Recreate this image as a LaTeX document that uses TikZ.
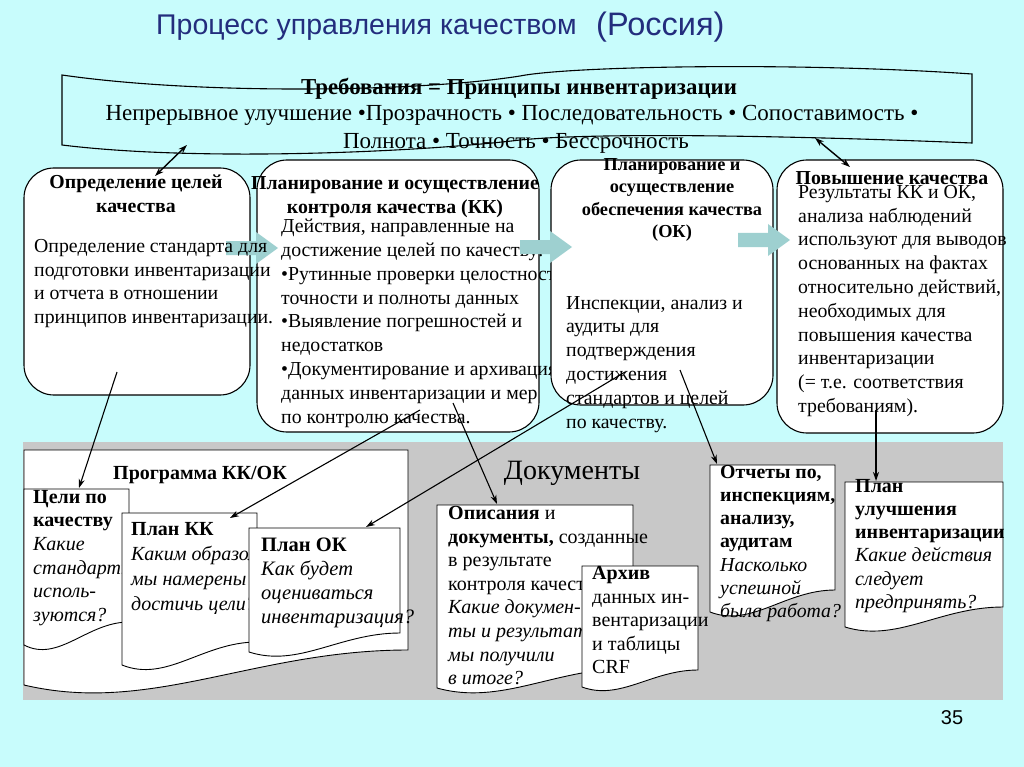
\documentclass[tikz,border=0pt]{standalone}
\usepackage{fontspec}
\setmainfont{Liberation Serif}
\newfontfamily\titlefont{Liberation Sans}
\usetikzlibrary{arrows.meta}

\definecolor{slidebg}{RGB}{200,252,252}
\definecolor{bandgray}{RGB}{200,200,200}
\definecolor{titleblue}{RGB}{35,45,125}
\definecolor{flowblue}{RGB}{158,208,208}

\tikzset{
  stagebox/.style={draw, line width=1.1pt, fill=white, rounded corners=30pt},
  headtext/.style={inner sep=0pt, align=center, font=\bfseries\fontsize{19.8}{23.5}\selectfont},
  bodytext/.style={anchor=north west, inner sep=0pt, align=left, font=\fontsize{19.8}{23.8}\selectfont},
  doctext/.style={anchor=north west, inner sep=0pt, align=left, font=\fontsize{20}{23.6}\selectfont},
  docline/.style={draw, line width=0.9pt, fill=white},
  link/.style={-{Stealth[length=9pt,width=6pt]}, line width=1.1pt},
  twolink/.style={{Stealth[length=9pt,width=6pt]}-{Stealth[length=9pt,width=6pt]}, line width=1.4pt},
  flowarrow/.style={fill=flowblue},
}

% document page with wavy bottom: x1, top, x2, left bottom, right bottom, dip
\newcommand{\docpage}[6]{%
  \pgfmathsetmacro{\dca}{#1+0.33*(#3-#1)}
  \pgfmathsetmacro{\dcb}{#1+0.6*(#3-#1)}
  \draw[docline] (#1,#2) -- (#3,#2) -- (#3,#5) .. controls (\dcb,#5) and (\dca,#4+#6) .. (#1,#4) -- cycle;
}
% fat flow arrow: left end x, centre y
\newcommand{\fatarrow}[2]{%
  \fill[flowarrow] (#1,#2-7) -- (#1+30,#2-7) -- (#1+30,#2-16) -- (#1+52,#2)
    -- (#1+30,#2+16) -- (#1+30,#2+7) -- (#1,#2+7) -- cycle;
}

\begin{document}
\begin{tikzpicture}[x=1pt, y=-1pt]
  \useasboundingbox (0,0) rectangle (1024,767);
  \fill[slidebg] (0,0) rectangle (1024,767);

  % Title
  \node[anchor=west, inner sep=0pt, text=titleblue, font=\titlefont\fontsize{28.5}{28.5}\selectfont] (title) at (156,28) {Процесс управления качеством};
  \node[anchor=west, inner sep=0pt, text=titleblue, font=\titlefont\fontsize{32.5}{32.5}\selectfont] (country) at (596,27) {(Россия)};

  % Requirements banner
  \node[inner sep=0pt, font=\bfseries\fontsize{22.8}{22.8}\selectfont] (req) at (519,89) {Требования = Принципы инвентаризации};
  \node[inner sep=0pt, font=\fontsize{23}{23}\selectfont] (princ1) at (512,115) {Непрерывное улучшение •Прозрачность • Последовательность • Сопоставимость •};
  \node[inner sep=0pt, font=\fontsize{23}{23}\selectfont] (princ2) at (516,143) {Полнота • Точность • Бессрочность};
  \draw[line width=1.1pt] (62,75) .. controls (200,95) and (420,92) .. (520,76)
    .. controls (570,66) and (800,62) .. (972,74) -- (972,143)
    .. controls (800,136) and (600,132) .. (520,140)
    .. controls (420,152) and (200,162) .. (62,145) -- cycle;

  % Stage boxes
  \draw[stagebox] (24,168) rectangle (250,395);
  \draw[stagebox] (257,160) rectangle (539,432);
  \fatarrow{226}{248}
  \node[headtext] (goals-h) at (136,194) {Определение целей\\качества};
  \node[bodytext] (goals-b) at (34,239) {Определение стандарта для\\подготовки инвентаризации\\и отчета в отношении\\принципов инвентаризации.};
  \node[headtext] (qc-h) at (395,197) {Планирование и осуществление\\контроля качества (КК)};
  \node[bodytext] (qc-b) at (281,219) {Действия, направленные на\\достижение целей по качеству:\\•Рутинные проверки целостности,\\точности и полноты данных\\•Выявление погрешностей и\\недостатков\\•Документирование и архивация\\данных инвентаризации и мер\\по контролю качества.};

  \draw[stagebox] (551,160) rectangle (773,405);
  \node[headtext, font=\bfseries\fontsize{18.3}{22.3}\selectfont] (qa-h) at (672,200) {Планирование и\\осуществление\\обеспечения качества\\(ОК)};
  \node[bodytext] (qa-b) at (566,296) {Инспекции, анализ и\\аудиты для\\подтверждения\\достижения\\стандартов и целей\\по качеству.};

  \draw[stagebox] (777,160) rectangle (1003,433);
  \node[bodytext] (imp-b) at (798,185) {Результаты КК и ОК,\\анализа наблюдений\\используют для выводов\\основанных на фактах\\относительно действий,\\необходимых для\\повышения качества\\инвентаризации\\(= т.е. соответствия\\требованиям).};
  \node[headtext] (imp-h) at (892,178) {Повышение качества};

  % Flow arrows between stages
  \fatarrow{520}{247}
  \fatarrow{738}{240}

  % Documents band
  \fill[bandgray] (23,442) rectangle (1003,700);
  \node[inner sep=0pt, font=\fontsize{28}{28}\selectfont] (docs) at (572,473) {Документы};

  \docpage{24}{450}{408}{685}{650}{30}
  \node[inner sep=0pt, font=\bfseries\fontsize{20}{20}\selectfont] (prog) at (200,475) {Программа КК/ОК};

  \docpage{24}{489}{129}{645}{622}{18}
  \node[doctext] (goal-t) at (33,490) {\textbf{Цели по}\\\textbf{качеству}\\\textit{Какие}\\\textit{стандарты}\\\textit{исполь-}\\\textit{зуются?}};

  \docpage{122}{513}{257}{665}{642}{18}
  \node[doctext, font=\fontsize{20}{25}\selectfont] (kk-t) at (131,522) {\textbf{План КК}\\\textit{Каким образом}\\\textit{мы намерены}\\\textit{достичь цели?}};

  \docpage{249}{528}{400}{652}{633}{16}
  \node[doctext, font=\fontsize{20.5}{24}\selectfont] (ok-t) at (261,538) {\textbf{План ОК}\\\textit{Как будет}\\\textit{оцениваться}\\\textit{инвентаризация?}};

  \docpage{437}{505}{633}{688}{668}{18}
  \node[doctext] (descr-t) at (448,506) {\textbf{Описания} и\\\textbf{документы,} созданные\\в результате\\контроля качества\\\textit{Какие докумен-}\\\textit{ты и результаты}\\\textit{мы получили}\\\textit{в итоге?}};

  \docpage{582}{566}{698}{687}{670}{14}
  \node[doctext] (arch-t) at (592,566) {\textbf{Архив}\\данных ин-\\вентаризации\\и таблицы\\CRF};

  \docpage{710}{465}{835}{612}{590}{16}
  \node[doctext, font=\fontsize{19.8}{23.2}\selectfont] (rep-t) at (720,465) {\textbf{Отчеты по,}\\\textbf{инспекциям,}\\\textbf{анализу,}\\\textbf{аудитам}\\\textit{Насколько}\\\textit{успешной}\\\textit{была работа?}};

  \docpage{845}{482}{1003}{627}{607}{16}
  \node[doctext, font=\fontsize{20}{23.2}\selectfont] (impl-t) at (855,479) {\textbf{План}\\\textbf{улучшения}\\\textbf{инвентаризации}\\\textit{Какие действия}\\\textit{следует}\\\textit{предпринять?}};

  % Connectors
  \coordinate (ban-l) at (187,145);
  \coordinate (goals-top) at (155,176);
  \coordinate (ban-r) at (815,138);
  \coordinate (imp-top) at (850,167);
  \coordinate (goals-out) at (117,372);
  \coordinate (goal-in) at (79,488);
  \coordinate (qc-out1) at (420,410);
  \coordinate (kk-in) at (230,518);
  \coordinate (qa-out1) at (625,372);
  \coordinate (ok-in) at (366,527);
  \coordinate (qc-out2) at (453,403);
  \coordinate (descr-in) at (497,504);
  \coordinate (qa-out2) at (680,370);
  \coordinate (rep-in) at (717,464);
  \coordinate (imp-out) at (876,410);
  \coordinate (impl-in) at (876,481);

  \draw[twolink] (goals-top) -- (ban-l);
  \draw[twolink] (ban-r) -- (imp-top);
  \draw[link] (goals-out) -- (goal-in);
  \draw[link] (qc-out1) -- (kk-in);
  \draw[link] (qa-out1) -- (ok-in);
  \draw[link] (qc-out2) -- (descr-in);
  \draw[link] (qa-out2) -- (rep-in);
  \draw[link] (imp-out) -- (impl-in);

  \node[inner sep=0pt, font=\titlefont\fontsize{20}{20}\selectfont] (page) at (952,718) {35};
\end{tikzpicture}
\end{document}
